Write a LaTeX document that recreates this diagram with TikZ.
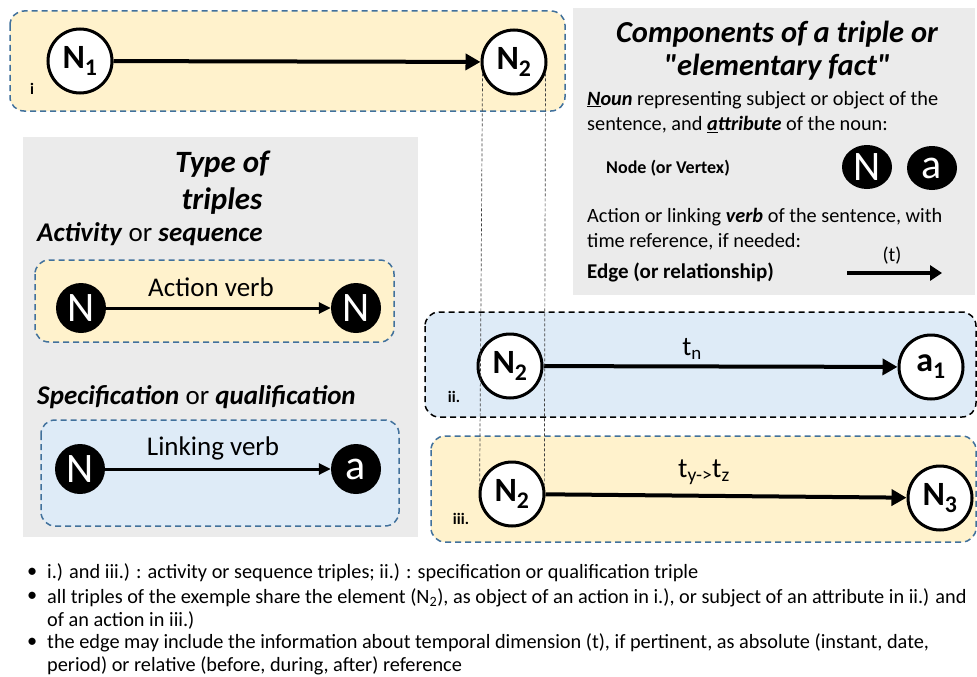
\documentclass[tikz,border=0pt]{standalone}
\usepackage{fontspec}
\setmainfont{Carlito}
\usetikzlibrary{arrows.meta,shapes.geometric}
\definecolor{yfill}{HTML}{FFF2CC}
\definecolor{bfill}{HTML}{DEEBF7}
\definecolor{gfill}{HTML}{EBEBEB}
\definecolor{bdash}{HTML}{41719C}
\newcommand\strq{{\addfontfeatures{Ligatures=TeXOff}"}}
\tikzset{
  panel/.style={fill=gfill, draw=none},
  framebox/.style={line width=1.5pt, dash pattern=on 6pt off 4pt, rounded corners=14pt},
  ybox/.style={framebox, fill=yfill, draw=bdash},
  bbox/.style={framebox, fill=bfill, draw=bdash},
  bkbox/.style={framebox, fill=bfill, draw=black},
  wnode/.style={circle, draw=black, line width=3pt, fill=white, minimum size=64pt, inner sep=0pt, font=\fontsize{34}{34}\bfseries\selectfont},
  bnode/.style={ellipse, fill=black, text=white, minimum width=50pt, minimum height=50pt, inner sep=0pt, font=\fontsize{42}{42}\selectfont},
  bnodeflat/.style={bnode, minimum height=44pt},
  bigarrow/.style={line width=4pt, -{Triangle[length=15pt,width=16pt]}},
  smallarrow/.style={line width=3pt, -{Triangle[length=12pt,width=11pt]}},
  tiearrow/.style={line width=0.7pt, draw=black!75, dash pattern=on 3pt off 2pt},
  tag/.style={font=\fontsize{16}{16}\bfseries\selectfont, inner sep=0pt},
  body/.style={font=\fontsize{20.3}{25}\selectfont, align=left, anchor=west, inner sep=0pt},
  bul/.style={font=\fontsize{20.3}{23}\selectfont, align=left, anchor=west, inner sep=0pt},
}
\begin{document}
\begin{tikzpicture}[x=1pt,y=-1pt]
\useasboundingbox (0,0) rectangle (977,677);
\fill[white] (0,0) rectangle (977,677);
% panels
\fill[panel] (573,8) rectangle (975,295);
\fill[panel] (23,137) rectangle (418,537);
% boxes
\draw[ybox] (10,11) rectangle (565,111);
\draw[bkbox] (425,312) rectangle (976,417);
\draw[ybox] (431,436) rectangle (976,542);
\draw[ybox] (35,260) rectangle (394,342);
\draw[bbox] (41,420) rectangle (399,526);
% triple i
\node[wnode] (N1) at (80,61) {N\textsubscript{1}};
\node[wnode] (N2a) at (514,62) {N\textsubscript{2}};
\draw[bigarrow] (N1) -- (N2a);
\node[tag] (li) at (32,89) {i};
% triple ii
\node[wnode] (N2b) at (510,366) {N\textsubscript{2}};
\node[wnode] (a1) at (931,367) {a\textsubscript{1}};
\draw[bigarrow] (N2b) -- (a1);
\node[font=\fontsize{27}{27}\selectfont] (tn) at (692,349) {t\textsubscript{n}};
\node[tag] (lii) at (454,397) {ii.};
% triple iii
\node[wnode] (N2c) at (512,494) {N\textsubscript{2}};
\node[wnode] (N3) at (940,498) {N\textsubscript{3}};
\draw[bigarrow] (N2c) -- (N3);
\node[font=\fontsize{28}{28}\selectfont] (tyz) at (704,472) {t\textsubscript{y->}t\textsubscript{z}};
\node[tag] (liii) at (461,519) {iii.};
% tie lines
\draw[tiearrow] (N2a.200) -- (N2c.165);
\draw[tiearrow] (N2a.-20) -- (N2c.15);
% right panel
\node[font=\fontsize{30.5}{33}\bfseries\itshape\selectfont, align=center] (ttl) at (777,51) {Components of a triple or\\\strq elementary fact\strq};
\node[body] (nt) at (587,112) {\textbf{\textit{\underline{N}oun}} representing subject or object of the\\sentence, and \textbf{\textit{\underline{a}ttribute}} of the noun:};
\node[body, font=\fontsize{18}{25}\bfseries\selectfont] (nv) at (606,168) {Node (or Vertex)};
\node[bnodeflat] (Nk) at (867,167) {N};
\node[bnodeflat] (ak) at (932,168) {a};
\node[body] (vt) at (587,229) {Action or linking \textbf{\textit{verb}} of the sentence, with\\time reference, if needed:};
\node[body, font=\fontsize{21}{25}\bfseries\selectfont] (er) at (587,272) {Edge (or relationship)};
\coordinate (ea) at (847,273);
\coordinate (eb) at (942,273);
\draw[line width=4pt, -{Triangle[length=12pt,width=15pt]}] (ea) -- (eb);
\node[font=\fontsize{20}{20}\selectfont] (tl) at (892,256) {(t)};
% left panel
\node[font=\fontsize{31}{37}\bfseries\itshape\selectfont, align=center] (tt) at (222,183) {Type of\\triples};
\node[body, font=\fontsize{27}{27}\selectfont] (as) at (37,234) {\textbf{\textit{Activity}} or \textbf{\textit{sequence}}};
\node[bnode] (Nl1) at (81,308) {N};
\node[bnode] (Nl2) at (356,308) {N};
\draw[smallarrow] (Nl1) -- (Nl2);
\node[font=\fontsize{27}{27}\selectfont] (av) at (211,287) {Action verb};
\node[body, font=\fontsize{27}{27}\selectfont] (sq) at (37,397) {\textbf{\textit{Specification}} or \textbf{\textit{qualification}}};
\node[bnode] (Nl3) at (80,469) {N};
\node[bnode] (al) at (356,469) {a};
\draw[smallarrow] (Nl3) -- (al);
\node[font=\fontsize{27}{27}\selectfont] (lv) at (213,448) {Linking verb};
% bullets
\node[bul] (d1) at (27,573) {•};
\node[bul] (d2) at (27,597) {•};
\node[bul] (d3) at (27,643) {•};
\node[bul] (b1) at (47,573) {i.) and iii.) : activity or sequence triples; ii.) : specification or qualification triple};
\node[bul] (b2) at (47,608.5) {all triples of the exemple share the element (N\textsubscript{2}), as object of an action in i.), or subject of an attribute in ii.) and\\of an action in iii.)};
\node[bul] (b3) at (47,654.5) {the edge may include the information about temporal dimension (t), if pertinent, as absolute (instant, date,\\period) or relative (before, during, after) reference};
\end{tikzpicture}
\end{document}
